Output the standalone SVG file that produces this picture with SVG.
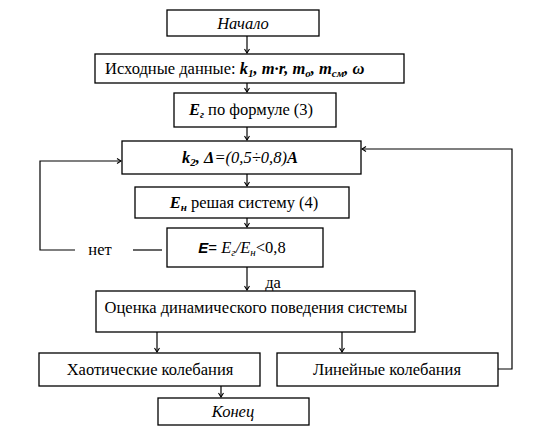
<svg xmlns="http://www.w3.org/2000/svg" width="552" height="440" viewBox="0 0 552 440">
<style>
.box{fill:#fff;stroke:#000;stroke-width:1.3}
.ln{fill:none;stroke:#000;stroke-width:1.2}
.bi{font-weight:bold;font-style:italic}
.it{font-style:italic}
.sub{font-size:11px}
</style>
<defs>
<marker id="ar" markerWidth="8" markerHeight="8" refX="7" refY="4" orient="auto" markerUnits="userSpaceOnUse">
<polyline points="3,1.5 7,4 3,6.5" fill="none" stroke="#000" stroke-width="1.1"/>
</marker>
</defs>
<rect width="552" height="440" fill="#fff"/>
<g font-family="Liberation Serif, DejaVu Serif, serif" font-size="16.5" fill="#000">
<g id="connectors">
<line class="ln" x1="247" y1="36" x2="247" y2="53" marker-end="url(#ar)"/>
<line class="ln" x1="247" y1="83" x2="247" y2="92" marker-end="url(#ar)"/>
<line class="ln" x1="247" y1="127" x2="247" y2="140" marker-end="url(#ar)"/>
<line class="ln" x1="247" y1="174" x2="247" y2="186" marker-end="url(#ar)"/>
<line class="ln" x1="247" y1="218" x2="247" y2="227" marker-end="url(#ar)"/>
<line class="ln" x1="247" y1="267" x2="247" y2="290" marker-end="url(#ar)"/>
<line class="ln" x1="157" y1="332" x2="157" y2="352" marker-end="url(#ar)"/>
<line class="ln" x1="342" y1="332" x2="342" y2="352" marker-end="url(#ar)"/>
<line class="ln" x1="221" y1="386" x2="221" y2="397" marker-end="url(#ar)"/>
<polyline class="ln" points="75,250 40,250 40,161 121,161" marker-end="url(#ar)"/>
<line class="ln" x1="133" y1="250" x2="162" y2="250"/>
<polyline class="ln" points="498,369 512,369 512,149 362,149" marker-end="url(#ar)"/>
<text x="100" y="255" text-anchor="middle">нет</text>
<text x="273" y="288" text-anchor="middle">да</text>
</g>
<g id="start">
<rect class="box" x="167" y="10" width="152" height="26"/>
<text class="it" x="243" y="29" text-anchor="middle">Начало</text>
</g>
<g id="input">
<rect class="box" x="95" y="54" width="309" height="29"/>
<text x="105" y="74">Исходные данные: <tspan class="bi">k</tspan><tspan class="bi sub" dy="3">1</tspan><tspan class="bi" dy="-3">, m·r, m</tspan><tspan class="bi sub" dy="3">o</tspan><tspan class="bi" dy="-3">, m</tspan><tspan class="bi sub" dy="3">см</tspan><tspan class="bi" dy="-3">, ω</tspan></text>
</g>
<g id="eg">
<rect class="box" x="174" y="93" width="162" height="34"/>
<text x="251" y="115" text-anchor="middle"><tspan class="bi">E</tspan><tspan class="bi sub" dy="3">г</tspan><tspan dy="-3"> по формуле (3)</tspan></text>
</g>
<g id="k2">
<rect class="box" x="122" y="141" width="239" height="33"/>
<text x="240" y="163" text-anchor="middle"><tspan class="bi">k</tspan><tspan class="bi sub" dy="3">2</tspan><tspan class="bi" dy="-3">, Δ</tspan><tspan class="it">=(0,5÷0,8)</tspan><tspan class="bi">A</tspan></text>
</g>
<g id="en">
<rect class="box" x="135" y="187" width="214" height="31"/>
<text x="244" y="208" text-anchor="middle"><tspan class="bi">E</tspan><tspan class="bi sub" dy="3">н</tspan><tspan dy="-3"> решая систему (4)</tspan></text>
</g>
<g id="cond">
<rect class="box" x="167" y="228" width="156" height="39"/>
<text x="242" y="253" text-anchor="middle"><tspan font-family="Liberation Sans, sans-serif" font-weight="bold" font-style="italic" font-size="15">E</tspan><tspan font-family="Liberation Sans, sans-serif" font-size="15">= </tspan><tspan class="it">E</tspan><tspan class="it sub" dy="3">г</tspan><tspan class="it" dy="-3">/E</tspan><tspan class="it sub" dy="3">н</tspan><tspan dy="-3">&lt;0,8</tspan></text>
</g>
<g id="eval">
<rect class="box" x="96" y="291" width="319" height="41"/>
<text x="256" y="313" text-anchor="middle">Оценка динамического поведения системы</text>
</g>
<g id="chaos">
<rect class="box" x="39" y="353" width="221" height="33"/>
<text x="150" y="375" text-anchor="middle">Хаотические колебания</text>
</g>
<g id="linear">
<rect class="box" x="277" y="353" width="221" height="33"/>
<text x="387" y="375" text-anchor="middle">Линейные колебания</text>
</g>
<g id="end">
<rect class="box" x="158" y="398" width="151" height="27"/>
<text class="it" x="233" y="417" text-anchor="middle">Конец</text>
</g>
</g>
</svg>
